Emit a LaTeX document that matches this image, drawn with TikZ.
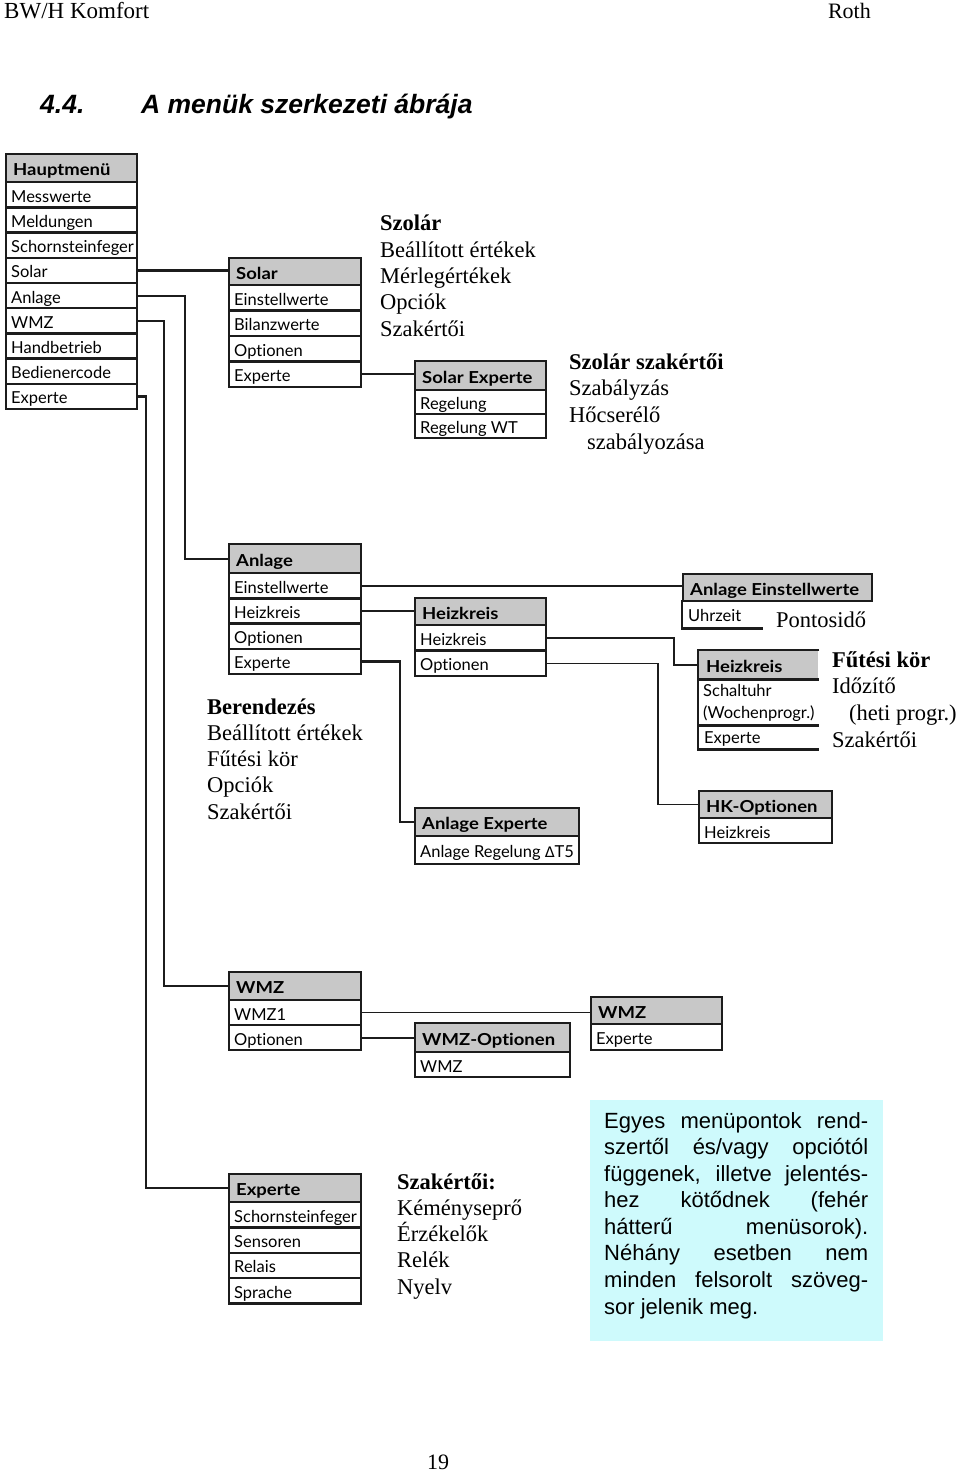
\documentclass[tikz,border=0pt]{standalone}
\usepackage{fontspec}
\newfontfamily\gill{Lato}[Ligatures={NoCommon,NoDiscretionary},BoldFeatures={FakeStretch=1.12}]
\newfontfamily\tms{Liberation Serif}
\newfontfamily\ari{Liberation Sans}
\newfontfamily\dvs{DejaVu Sans}
\definecolor{hgray}{RGB}{200,200,200}
\definecolor{cyanbg}{RGB}{206,250,252}
\definecolor{ink}{RGB}{28,28,28}
\tikzset{
  hd/.style 2 args={anchor=north west, inner xsep=7pt, inner ysep=0pt,
    minimum width=#1, minimum height=#2, text height=15pt, text depth=0pt,
    draw=ink, line width=2.4pt, fill=hgray,
    font=\gill\bfseries\fontsize{16.5}{19}\selectfont,
    execute at begin node={\hbox to \dimexpr #1-14pt\relax\bgroup},
    execute at end node={\hfil\egroup}},
  rw/.style 2 args={anchor=north west, inner xsep=5pt, inner ysep=0pt,
    minimum width=#1, minimum height=#2, text height=15pt, text depth=0pt,
    draw=ink, line width=2.4pt, fill=white,
    font=\gill\fontsize{16.5}{19}\selectfont,
    execute at begin node={\hbox to \dimexpr #1-10pt\relax\bgroup},
    execute at end node={\hfil\egroup}},
  con/.style={draw=ink, line width=2.2pt, line join=miter},
  thincon/.style={draw=ink, line width=1.3pt, line join=miter},
  openline/.style={draw=ink, line width=2.4pt, line join=miter},
  tx/.style={anchor=base west, inner sep=0pt, font=\tms\fontsize{22.5}{26}\selectfont},
  ar/.style={anchor=base west, inner sep=0pt, font=\ari\fontsize{22}{26}\selectfont},
  lbl/.style={anchor=base west, inner sep=0pt, font=\gill\fontsize{16.5}{19}\selectfont}
}
\begin{document}
\begin{tikzpicture}[x=1pt,y=-1pt]
\useasboundingbox (0,0) rectangle (960,1471);
\fill[white] (0,0) rectangle (960,1471);

% page header and title
\node[anchor=base west, inner sep=0pt, font=\tms\fontsize{23}{27}\selectfont] (hleft) at (4,19) {BW/H Komfort};
\node[anchor=base east, inner sep=0pt, font=\tms\fontsize{22}{27}\selectfont] (hright) at (871,19) {Roth};
\node[anchor=base west, inner sep=0pt, font=\ari\bfseries\itshape\fontsize{26.5}{30}\selectfont] (tnum) at (40,114) {4.4.};
\node[anchor=base west, inner sep=0pt, font=\ari\bfseries\itshape\fontsize{26.5}{30}\selectfont] (ttext) at (141,114) {A menük szerkezeti ábrája};
\node[anchor=base, inner sep=0pt, font=\tms\fontsize{22}{26}\selectfont] (pgno) at (438,1469) {19};

% Hauptmenue
\node[hd={131pt}{28pt}] (hm) at (5,153) {Hauptmenü};
\foreach \t [count=\i] in {Messwerte,Meldungen,Schornsteinfeger,Solar,Anlage,WMZ,Handbetrieb,Bedienercode,Experte}
  \node[rw={131pt}{25.2pt}] (hm\i) at (5,{181+25.2*(\i-1)}) {\t};

% Solar
\node[hd={132pt}{27pt}] (so) at (228,257) {Solar};
\foreach \t [count=\i] in {Einstellwerte,Bilanzwerte,Optionen,Experte}
  \node[rw={132pt}{25.4pt}] (so\i) at (228,{284+25.4*(\i-1)}) {\t};

% Solar Experte
\node[hd={131pt}{29pt}] (se) at (414,360) {Solar Experte};
\node[rw={131pt}{24pt}] (se1) at (414,389) {Regelung};
\node[rw={131pt}{24pt}] (se2) at (414,413) {Regelung WT};

% Anlage
\node[hd={132pt}{29pt}] (an) at (228,543) {Anlage};
\foreach \t [count=\i] in {Einstellwerte,Heizkreis,Optionen,Experte}
  \node[rw={132pt}{25.2pt}] (an\i) at (228,{572+25.2*(\i-1)}) {\t};

% Heizkreis (middle)
\node[hd={131pt}{27pt}] (hk) at (414,597) {Heizkreis};
\node[rw={131pt}{25.3pt}] (hk1) at (414,624) {Heizkreis};
\node[rw={131pt}{25.3pt}] (hk2) at (414,649.3) {Optionen};

% Anlage Einstellwerte
\node[hd={189pt}{27pt}] (aew) at (682,573) {Anlage Einstellwerte};
\node[rw={79pt}{26pt}, draw=none, fill=none] (aew1) at (682,600) {Uhrzeit};
\draw[openline] (aew1.north west) -- (aew1.south west) -- (aew1.south east);
\node[tx] (pont) at (776,627) {Pontosidő};

% Heizkreis (right, open on the right)
\node[hd={119pt}{27pt}, draw=none] (hr) at (698,650) {Heizkreis};
\node[rw={119pt}{46pt}, draw=none, fill=none] (hr1) at (698,677) {};
\node[rw={119pt}{24pt}, draw=none, fill=none] (hr2) at (698,723) {Experte};
\node[lbl] (hr1a) at (703,696) {Schaltuhr};
\node[lbl] (hr1b) at (703,718) {(Wochenprogr.)};
\draw[openline] (hr.north east) -- (hr.north west) -- (hr2.south west) -- (hr2.south east);
\draw[openline] (hr.south west) -- (hr.south east);
\draw[openline] (hr1.south west) -- (hr1.south east);

% HK-Optionen
\node[hd={133pt}{27pt}] (ho) at (698,790) {HK-Optionen};
\node[rw={133pt}{25pt}] (ho1) at (698,817) {Heizkreis};

% Anlage Experte
\node[hd={164pt}{28pt}] (ae) at (414,807) {Anlage Experte};
\node[rw={164pt}{28pt}] (ae1) at (414,835) {Anlage Regelung {\dvs\fontsize{14.5}{17}\selectfont Δ}T5};

% WMZ left
\node[hd={132pt}{28pt}] (wz) at (228,971) {WMZ};
\node[rw={132pt}{25pt}] (wz1) at (228,999) {WMZ1};
\node[rw={132pt}{25pt}] (wz2) at (228,1024) {Optionen};

% WMZ-Optionen
\node[hd={155pt}{29pt}] (wo) at (414,1022) {WMZ-Optionen};
\node[rw={155pt}{25pt}] (wo1) at (414,1051) {WMZ};

% WMZ right
\node[hd={131pt}{27pt}] (wr) at (590,996) {WMZ};
\node[rw={131pt}{26pt}] (wr1) at (590,1023) {Experte};

% Experte
\node[hd={132pt}{28pt}] (ex) at (228,1173) {Experte};
\foreach \t [count=\i] in {Schornsteinfeger,Sensoren,Relais,Sprache}
  \node[rw={132pt}{25.3pt}] (ex\i) at (228,{1201+25.3*(\i-1)}) {\t};

% connectors
\draw[con] (hm4.east) -- (hm4.east -| so.west);
\draw[con] (hm5.east) -| ([xshift=-43pt]an.west) -- (an.west);
\draw[con] (hm6.east) -| ([xshift=-64pt]wz.west) -- (wz.west);
\draw[con] (hm9.east) -| ([xshift=-82pt]ex.west) -- (ex.west);
\draw[con] (so4.east) -- (so4.east -| se.west);
\draw[con] (an1.east) -- (an1.east -| aew.west);
\draw[con] (an2.east) -- (an2.east -| hk.west);
\draw[con] (an4.east) -| ([xshift=-14pt]ae.west) -- (ae.west);
\draw[con] (hk1.east) -| ([xshift=-24pt]hr.west) -- (hr.west);
\draw[thincon] (hk2.east) -| ([xshift=-40pt]ho.west) -- (ho.west);
\draw[thincon] (wz1.east) -- (wz1.east -| wr.west);
\draw[con] (wz2.east) -- (wz2.east -| wo.west);

% Hungarian texts
\foreach \t [count=\i] in {{\bfseries Szolár},Beállított értékek,Mérlegértékek,Opciók,Szakértői}
  \node[tx] (szo\i) at (380,{231+26.3*(\i-1)}) {\t};
\foreach \t [count=\i] in {{\bfseries Szolár szakértői},Szabályzás,Hőcserélő,{\hspace{18pt}szabályozása}}
  \node[tx] (ssz\i) at (569,{369+26.7*(\i-1)}) {\t};
\foreach \t [count=\i] in {{\bfseries Berendezés},Beállított értékek,Fűtési kör,Opciók,Szakértői}
  \node[tx] (ber\i) at (207,{714+26.3*(\i-1)}) {\t};
\foreach \t [count=\i] in {{\bfseries Fűtési kör},Időzítő,{\hspace{17pt}(heti progr.)},Szakértői}
  \node[tx] (fut\i) at (832,{667+26.7*(\i-1)}) {\t};
\foreach \t [count=\i] in {{\bfseries Szakértői:},Kéményseprő,Érzékelők,Relék,Nyelv}
  \node[tx] (szk\i) at (397,{1189+26.3*(\i-1)}) {\t};

% note box
\node[fill=cyanbg, anchor=north west, minimum width=293pt, minimum height=241pt, inner sep=0pt] (note) at (590,1100) {};
\foreach \t [count=\i] in {Egyes menüpontok rend-,szertől és/vagy opciótól,{függenek, illetve jelentés-},hez kötődnek (fehér,hátterű menüsorok).,Néhány esetben nem,minden felsorolt szöveg-}
  \node[ar] (nt\i) at (604,{1128+26.57*(\i-1)}) {\makebox[264pt][s]{\t}};
\node[ar] (nt8) at (604,{1128+26.57*7}) {sor jelenik meg.};
\end{tikzpicture}
\end{document}
